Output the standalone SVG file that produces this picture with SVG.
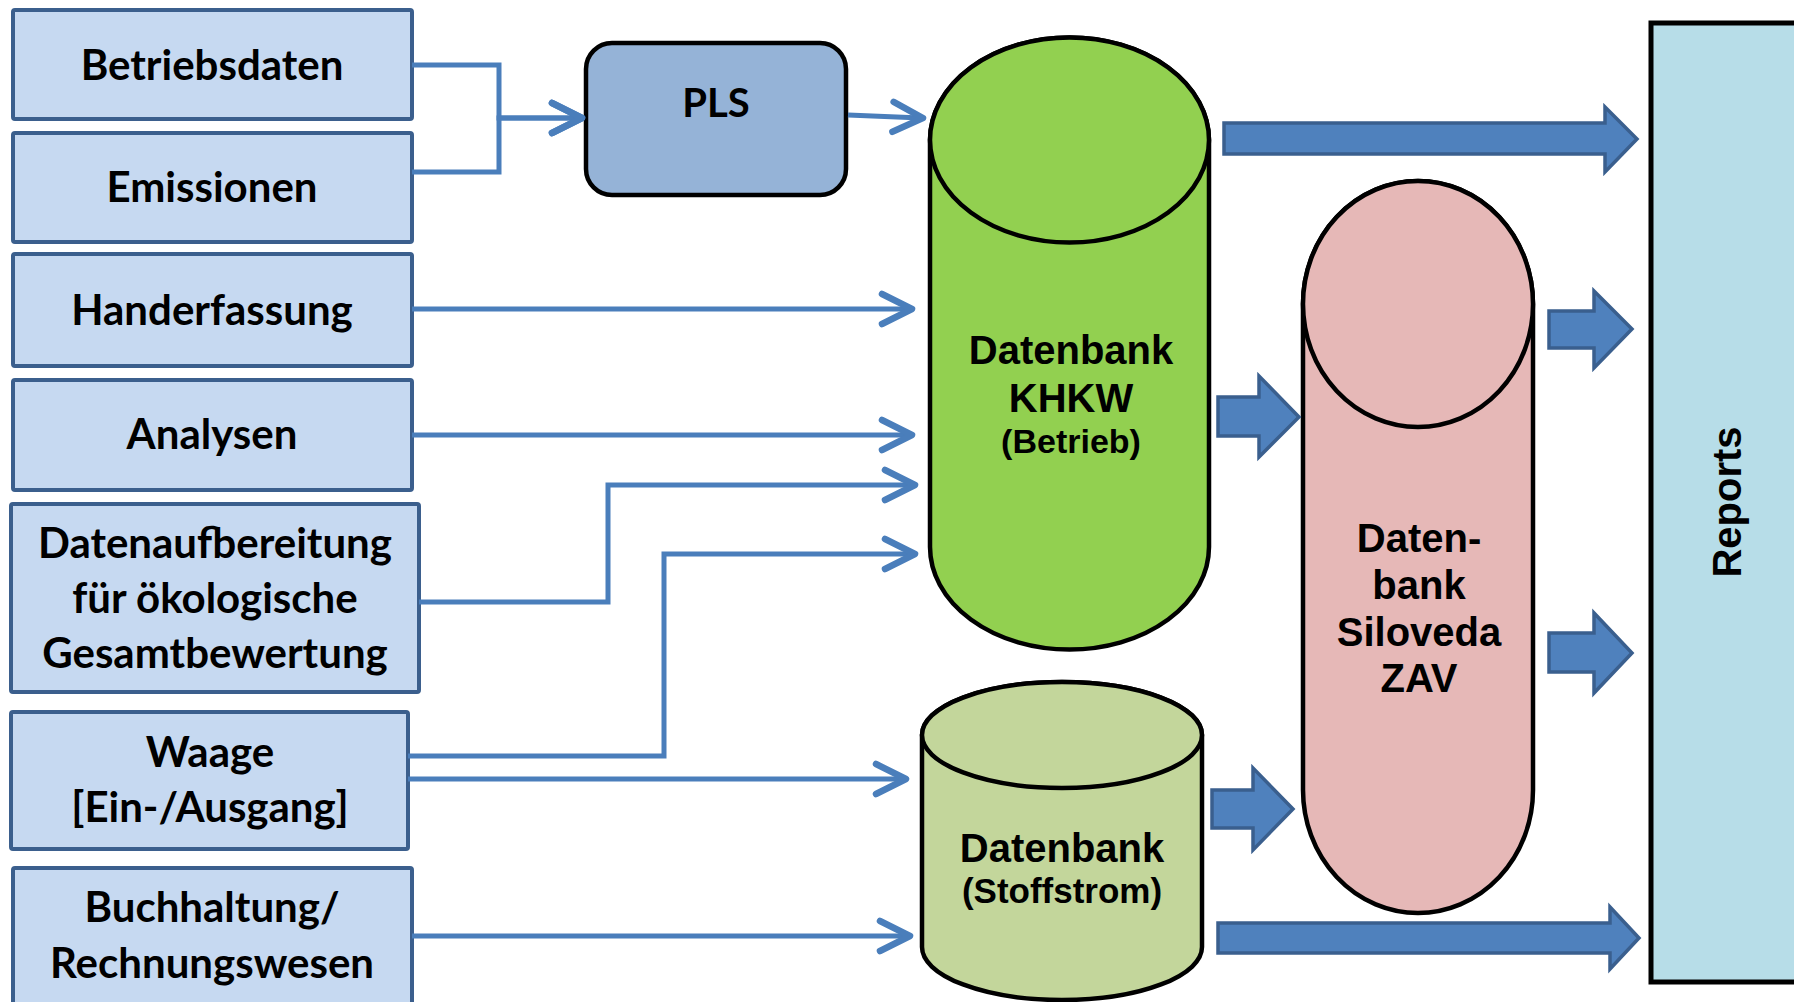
<svg xmlns="http://www.w3.org/2000/svg" width="1794" height="1002" viewBox="0 0 1794 1002">
  <defs>
    <style>
      .src rect { fill: #c6d9f1; stroke: #3b5f8d; stroke-width: 4; }
      .src text { font-family: Lato, "Open Sans", sans-serif; font-weight: bold; font-size: 42px; fill: #000; text-anchor: middle; }
      .db { stroke: #000; stroke-width: 4.5; }
      .dbt { font-family: "Liberation Sans", Arial, sans-serif; font-weight: bold; fill: #000; text-anchor: middle; }
      .flow { fill: none; stroke: #4a7ebb; stroke-width: 5; marker-end: url(#chev); }
      .big { fill: #4f81bd; stroke: #3a5f8e; stroke-width: 3.5; stroke-linejoin: miter; }
    </style>
    <marker id="chev" markerUnits="userSpaceOnUse" viewBox="-36 -20 42 40" markerWidth="42" markerHeight="40" refX="0" refY="0" orient="auto" overflow="visible">
      <path d="M-28,-15 L2,0 L-28,15" fill="none" stroke="#4a7ebb" stroke-width="6.5" stroke-linecap="round" stroke-linejoin="round"/>
    </marker>
  </defs>

  <rect width="1794" height="1002" fill="#ffffff"/>

  <!-- input sources -->
  <g id="betriebsdaten" class="src">
    <rect x="13" y="10" width="399" height="109" rx="2"/>
    <text x="212" y="80">Betriebsdaten</text>
  </g>
  <g id="emissionen" class="src">
    <rect x="13" y="133" width="399" height="109" rx="2"/>
    <text x="212" y="202">Emissionen</text>
  </g>
  <g id="handerfassung" class="src">
    <rect x="13" y="254" width="399" height="112" rx="2"/>
    <text x="212" y="325">Handerfassung</text>
  </g>
  <g id="analysen" class="src">
    <rect x="13" y="380" width="399" height="110" rx="2"/>
    <text x="212" y="449">Analysen</text>
  </g>
  <g id="datenaufbereitung" class="src">
    <rect x="11" y="504" width="408" height="188" rx="2"/>
    <text x="215" y="558">Datenaufbereitung</text>
    <text x="215" y="613">für ökologische</text>
    <text x="215" y="668">Gesamtbewertung</text>
  </g>
  <g id="waage" class="src">
    <rect x="11" y="712" width="397" height="137" rx="2"/>
    <text x="210" y="767">Waage</text>
    <text x="210" y="822">[Ein-/Ausgang]</text>
  </g>
  <g id="buchhaltung" class="src">
    <rect x="13" y="868" width="399" height="150" rx="2"/>
    <text x="212" y="922">Buchhaltung/</text>
    <text x="212" y="978">Rechnungswesen</text>
  </g>

  <!-- process control system -->
  <g id="pls">
    <rect x="586" y="43" width="260" height="152" rx="26" fill="#95b3d7" stroke="#000" stroke-width="4.5"/>
    <text x="716" y="117" font-family="Lato, 'Open Sans', sans-serif" font-weight="bold" font-size="40" text-anchor="middle">PLS</text>
  </g>

  <!-- operations database -->
  <g id="db-khkw">
    <path class="db" fill="#92d050" d="M930,140 V547 A139.5,102.5 0 0 0 1209,547 V140 A139.5,102.5 0 0 0 930,140 Z"/>
    <ellipse class="db" fill="#92d050" cx="1069.5" cy="140" rx="139.5" ry="102.5"/>
    <text class="dbt" x="1071" y="364" font-size="40">Datenbank</text>
    <text class="dbt" x="1071" y="412" font-size="40">KHKW</text>
    <text class="dbt" x="1071" y="453" font-size="34">(Betrieb)</text>
  </g>

  <!-- material flow database -->
  <g id="db-stoffstrom">
    <path class="db" fill="#c3d69b" d="M922,735 V947 A140,53 0 0 0 1202,947 V735 A140,53 0 0 0 922,735 Z"/>
    <ellipse class="db" fill="#c3d69b" cx="1062" cy="735" rx="140" ry="53"/>
    <text class="dbt" x="1062" y="862" font-size="40">Datenbank</text>
    <text class="dbt" x="1062" y="903" font-size="35">(Stoffstrom)</text>
  </g>

  <!-- Siloveda database -->
  <g id="db-siloveda">
    <path class="db" fill="#e6b8b7" d="M1303,304 V790 A115,123 0 0 0 1533,790 V304 A115,123 0 0 0 1303,304 Z"/>
    <ellipse class="db" fill="#e6b8b7" cx="1418" cy="304" rx="115" ry="123"/>
    <text class="dbt" x="1419" y="552" font-size="40">Daten-</text>
    <text class="dbt" x="1419" y="599" font-size="40">bank</text>
    <text class="dbt" x="1419" y="646" font-size="40">Siloveda</text>
    <text class="dbt" x="1419" y="692" font-size="40">ZAV</text>
  </g>

  <!-- reports -->
  <g id="reports">
    <rect x="1651" y="23" width="160" height="959" fill="#b7dde8" stroke="#000" stroke-width="5"/>
    <text class="dbt" font-size="40" transform="translate(1741,502) rotate(-90)">Reports</text>
  </g>

  <!-- connectors -->
  <g id="connectors">
    <path class="flow" d="M412,65 H499 V118 H580"/>
    <path class="flow" d="M412,172 H499 V118 H580"/>
    <path class="flow" d="M848,115 L921,118"/>
    <path class="flow" d="M412,309 H910"/>
    <path class="flow" d="M412,435 H910"/>
    <path class="flow" d="M419,602 H608 V485 H913"/>
    <path class="flow" d="M408,756 H664 V554 H913"/>
    <path class="flow" d="M408,779 H904"/>
    <path class="flow" d="M412,936 H908"/>

    <path class="big" d="M1224,123 H1605 V107 L1637,139 L1605,172 V154 H1224 Z"/>
    <path class="big" d="M1218,397 H1259 V376 L1299,417 L1259,457 V436 H1218 Z"/>
    <path class="big" d="M1549,311 H1594 V291 L1632,329 L1594,368 V348 H1549 Z"/>
    <path class="big" d="M1549,633 H1594 V613 L1632,653 L1594,693 V672 H1549 Z"/>
    <path class="big" d="M1212,790 H1253 V768 L1293,809 L1253,850 V828 H1212 Z"/>
    <path class="big" d="M1218,923 H1610 V907 L1639,938 L1610,969 V953 H1218 Z"/>
  </g>
</svg>
